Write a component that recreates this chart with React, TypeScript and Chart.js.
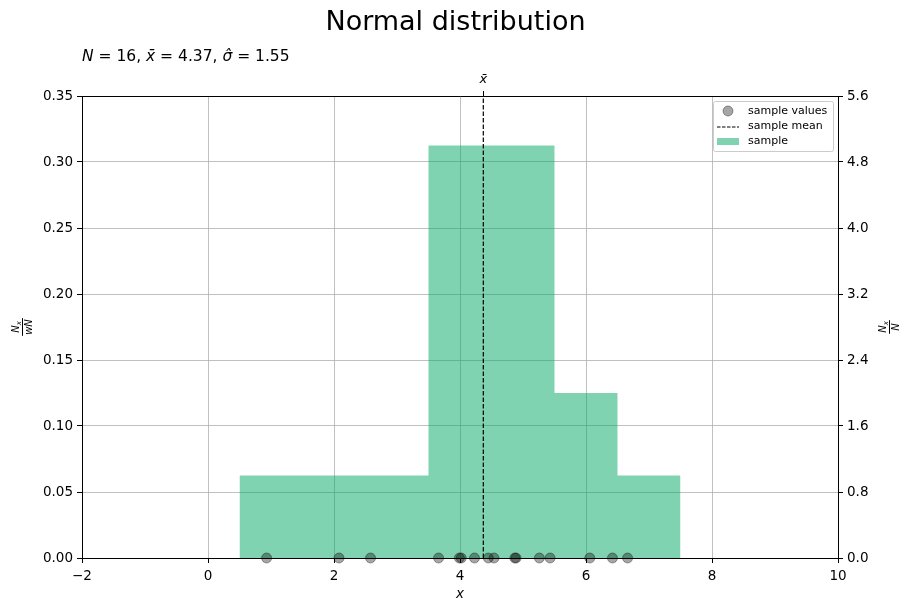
import React, { useEffect, useRef } from "react";
import { Chart, registerables } from "chart.js";

Chart.register(...registerables);

// ---- data ----
const binEdges = [0.5, 3.5, 5.5, 6.5, 7.5];
const binDensity = [0.0625, 0.3125, 0.125, 0.0625];
const sampleValues = [0.93, 2.08, 2.58, 3.66, 3.99, 4.02, 4.23, 4.45, 4.54, 4.87, 4.89, 5.26, 5.43, 6.06, 6.42, 6.66];
const sampleMean = 4.37;
const sampleStd = 1.55;
const sampleN = 16;
const xTicks = [-2, 0, 2, 4, 6, 8, 10];
const leftTicks = [0, 0.05, 0.1, 0.15, 0.2, 0.25, 0.3, 0.35];
const rightTicks = [0, 0.8, 1.6, 2.4, 3.2, 4.0, 4.8, 5.6];
const legendLabels = ["sample values", "sample mean", "sample"];
const titleText = "Normal distribution";

const FONT = "'DejaVu Sans', sans-serif";
const HIST_COLOR = "rgba(0,168,100,0.5)";
const POINT_COLOR = "rgba(0,0,0,0.35)";

function drawFraction(ctx: CanvasRenderingContext2D, cx: number, cy: number, num: [string, string], den: string) {
  ctx.save();
  ctx.translate(cx, cy);
  ctx.rotate(-Math.PI / 2);
  ctx.fillStyle = "#000";
  ctx.strokeStyle = "#000";
  ctx.textBaseline = "alphabetic";
  ctx.textAlign = "left";
  ctx.font = `italic 10px ${FONT}`;
  const nW = ctx.measureText(num[0]).width;
  ctx.font = `italic 7px ${FONT}`;
  const sW = ctx.measureText(num[1]).width;
  ctx.font = `italic 10px ${FONT}`;
  const dW = ctx.measureText(den).width;
  const w = Math.max(nW + sW, dW) + 2;
  ctx.font = `italic 10px ${FONT}`;
  ctx.fillText(num[0], -(nW + sW) / 2, -3);
  ctx.font = `italic 7px ${FONT}`;
  ctx.fillText(num[1], -(nW + sW) / 2 + nW, -1);
  ctx.lineWidth = 1;
  ctx.beginPath();
  ctx.moveTo(-w / 2, 0.5);
  ctx.lineTo(w / 2, 0.5);
  ctx.stroke();
  ctx.font = `italic 10px ${FONT}`;
  ctx.fillText(den, -dW / 2, 10);
  ctx.restore();
}

const textPlugin = {
  id: "textPlugin",
  afterDraw(chart: any) {
    const ctx: CanvasRenderingContext2D = chart.ctx;
    const ca = chart.chartArea;
    ctx.save();
    ctx.fillStyle = "#000";
    ctx.font = `27px ${FONT}`;
    ctx.textAlign = "center";
    ctx.textBaseline = "middle";
    ctx.fillText(titleText, chart.width / 2, 23);

    const segs: [string, boolean][] = [
      ["N", true],
      [" = " + sampleN + ", ", false],
      ["x\u0304", true],
      [" = " + sampleMean.toFixed(2) + ", ", false],
      ["\u03C3\u0302", true],
      [" = " + sampleStd.toFixed(2), false],
    ];
    let x = ca.left;
    ctx.textAlign = "left";
    ctx.textBaseline = "middle";
    for (const [t, it] of segs) {
      ctx.font = `${it ? "italic " : ""}15.5px ${FONT}`;
      ctx.fillText(t, x, 57);
      x += ctx.measureText(t).width;
    }

    ctx.font = `italic 13.5px ${FONT}`;
    ctx.textAlign = "center";
    ctx.fillText("x", (ca.left + ca.right) / 2, 594);

    const cy = (ca.top + ca.bottom) / 2;
    drawFraction(ctx, 22, cy, ["N", "x"], "wN");
    drawFraction(ctx, 889, cy, ["N", "x"], "N");

    // Legend
    const lx = ca.right - 125;
    const ly = ca.top + 5;
    const lw = 120;
    const lh = 50;
    ctx.fillStyle = "rgba(255,255,255,0.8)";
    ctx.strokeStyle = "#cccccc";
    ctx.lineWidth = 1;
    ctx.beginPath();
    (ctx as any).roundRect(lx + 0.5, ly + 0.5, lw, lh, 2);
    ctx.fill();
    ctx.stroke();
    const rows = [ly + 10, ly + 25.5, ly + 40.5];
    const mx = lx + 15;
    ctx.fillStyle = POINT_COLOR;
    ctx.strokeStyle = POINT_COLOR;
    ctx.beginPath();
    ctx.arc(mx, rows[0], 5, 0, Math.PI * 2);
    ctx.fill();
    ctx.stroke();
    ctx.strokeStyle = "#000";
    ctx.setLineDash([3.5, 1.5]);
    ctx.beginPath();
    ctx.moveTo(mx - 11, rows[1] + 0.5);
    ctx.lineTo(mx + 11, rows[1] + 0.5);
    ctx.stroke();
    ctx.setLineDash([]);
    ctx.fillStyle = HIST_COLOR;
    ctx.fillRect(mx - 11, rows[2] - 3.5, 22, 7);
    ctx.fillStyle = "#000";
    ctx.font = `11px ${FONT}`;
    ctx.textAlign = "left";
    ctx.textBaseline = "middle";
    legendLabels.forEach((l, i) => ctx.fillText(l, lx + 35, rows[i]));
    ctx.restore();
  },
};

export default function App() {
  const ref = useRef<HTMLCanvasElement | null>(null);
  useEffect(() => {
    if (!ref.current) return;
    const histPts: { x: number; y: number }[] = [{ x: binEdges[0], y: 0 }];
    binDensity.forEach((d, i) => {
      histPts.push({ x: binEdges[i], y: d });
      histPts.push({ x: binEdges[i + 1], y: d });
    });
    histPts.push({ x: binEdges[binEdges.length - 1], y: 0 });

    const tickFont = { family: FONT, size: 13.5 };
    const gridCommon = { color: "#b0b0b0", lineWidth: 0.8, tickColor: "#000", tickLength: 5, tickWidth: 1 };
    const border = { color: "#000", width: 1 };
    const fmtNum = (v: number, d: number) => v.toFixed(d).replace("-", "\u2212");

    const chart = new Chart(ref.current, {
      type: "scatter",
      data: {
        datasets: [
          {
            type: "scatter",
            label: legendLabels[0],
            data: sampleValues.map((v) => ({ x: v, y: 0 })),
            backgroundColor: POINT_COLOR,
            borderColor: POINT_COLOR,
            borderWidth: 1,
            pointRadius: 5,
            clip: false as any,
            order: 0,
            xAxisID: "x",
            yAxisID: "y",
          },
          {
            type: "line",
            label: legendLabels[1],
            data: [
              { x: sampleMean, y: 0 },
              { x: sampleMean, y: leftTicks[leftTicks.length - 1] },
            ],
            borderColor: "#000",
            borderWidth: 1.2,
            borderDash: [4.5, 2],
            pointRadius: 0,
            fill: false,
            order: 1,
            xAxisID: "x",
            yAxisID: "y",
          },
          {
            type: "line",
            label: legendLabels[2],
            data: histPts,
            borderWidth: 0,
            borderColor: "rgba(0,0,0,0)",
            backgroundColor: HIST_COLOR,
            pointRadius: 0,
            fill: "origin",
            tension: 0,
            order: 2,
            xAxisID: "x",
            yAxisID: "y",
          },
        ] as any,
      },
      options: {
        animation: false,
        responsive: true,
        maintainAspectRatio: false,
        devicePixelRatio: 1,
        layout: { padding: { top: 66, left: 0, right: 0, bottom: 0 } },
        plugins: { legend: { display: false }, tooltip: { enabled: false }, title: { display: false } },
        scales: {
          x: {
            type: "linear",
            position: "bottom",
            min: -2,
            max: 10,
            grid: gridCommon,
            border,
            ticks: { font: tickFont, color: "#000", padding: 5, callback: (v: any) => fmtNum(Number(v), 0) },
            afterBuildTicks: (s: any) => {
              s.ticks = xTicks.map((v) => ({ value: v }));
            },
            afterFit: (s: any) => {
              s.height = 53;
            },
          },
          x2: {
            type: "linear",
            position: "top",
            min: -2,
            max: 10,
            grid: { ...gridCommon, drawOnChartArea: false },
            border,
            ticks: { font: { family: FONT, size: 13, style: "italic" }, color: "#000", padding: 4, callback: () => "x\u0304" },
            afterBuildTicks: (s: any) => {
              s.ticks = [{ value: sampleMean }];
            },
            afterFit: (s: any) => {
              s.height = 30;
            },
          },
          y: {
            type: "linear",
            position: "left",
            min: 0,
            max: 0.35,
            grid: gridCommon,
            border,
            ticks: { font: tickFont, color: "#000", padding: 4, callback: (v: any) => fmtNum(Number(v), 2) },
            afterBuildTicks: (s: any) => {
              s.ticks = leftTicks.map((v) => ({ value: v }));
            },
            afterFit: (s: any) => {
              s.width = 82;
            },
          },
          y2: {
            type: "linear",
            position: "right",
            min: 0,
            max: 5.6,
            grid: { ...gridCommon, drawOnChartArea: false },
            border,
            ticks: { font: tickFont, color: "#000", padding: 4, callback: (v: any) => fmtNum(Number(v), 1) },
            afterBuildTicks: (s: any) => {
              s.ticks = rightTicks.map((v) => ({ value: v }));
            },
            afterFit: (s: any) => {
              s.width = 73;
            },
          },
        } as any,
      },
      plugins: [textPlugin],
    });
    return () => chart.destroy();
  }, []);

  return (
    <div style={{ position: "absolute", left: 0, top: 0, width: 911, height: 611, background: "#fff" }}>
      <canvas ref={ref} />
    </div>
  );
}
